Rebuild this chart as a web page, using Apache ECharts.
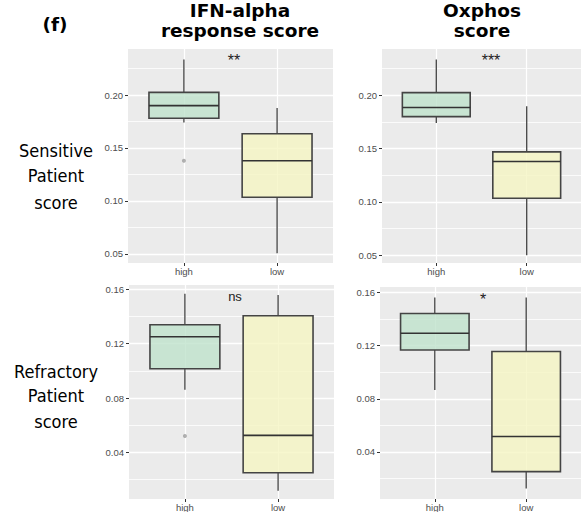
<!DOCTYPE html>
<html><head><meta charset="utf-8">
<script src="https://cdn.jsdelivr.net/npm/echarts@6/dist/echarts.min.js"></script>
<style>html,body{margin:0;padding:0;background:#fff}#c{width:581px;height:512px}</style>
</head><body><div id="c"></div>
<script>
// ---- data ----
const groups = ['high', 'low'];
// each box: [lower whisker, Q1, median, Q3, upper whisker]
const ifnSensitive = [[0.1740, 0.1780, 0.1900, 0.2025, 0.2335], [0.0506, 0.1035, 0.1380, 0.1634, 0.1878]];
const ifnSensitiveOutliers = [[0, 0.138]];
const oxSensitive = [[0.1740, 0.1800, 0.1885, 0.2025, 0.2335], [0.0500, 0.1035, 0.1380, 0.1470, 0.1897]];
const oxSensitiveOutliers = [];
const ifnRefractory = [[0.0861, 0.1015, 0.1251, 0.1339, 0.1566], [0.0119, 0.0251, 0.0526, 0.1405, 0.1558]];
const ifnRefractoryOutliers = [[0, 0.0521]];
const oxRefractory = [[0.0867, 0.1168, 0.1294, 0.1442, 0.1563], [0.0125, 0.0252, 0.0516, 0.1156, 0.1563]];
const oxRefractoryOutliers = [];
const sensTicks = [0.05, 0.10, 0.15, 0.20];
const sensMinor = [0.075, 0.125, 0.175, 0.225];
const refTicks = [0.04, 0.08, 0.12, 0.16];
const refMinor = [0.02, 0.06, 0.10, 0.14];
const pLabels = ['**', '***', 'ns', '*'];
const colTitles = [['IFN-alpha', 'response score'], ['Oxphos', 'score']];
const rowTitles = [['Sensitive', 'Patient', 'score'], ['Refractory', 'Patient', 'score']];
const panelTag = '(f)';

// ---- layout / style ----
const fills = ['rgba(190,226,203,0.78)', 'rgba(245,245,193,0.78)'];
const panels = [
  {box: ifnSensitive, out: ifnSensitiveOutliers, ticks: sensTicks, minor: sensMinor, min: 0.0415, max: 0.2434, grid: {left: 128, top: 49, width: 205, height: 214}, p: pLabels[0], px: 234, py: 60, pf: 16},
  {box: oxSensitive, out: oxSensitiveOutliers, ticks: sensTicks, minor: sensMinor, min: 0.0428, max: 0.2434, grid: {left: 382, top: 49, width: 205, height: 214}, p: pLabels[1], px: 491, py: 60, pf: 16},
  {box: ifnRefractory, out: ifnRefractoryOutliers, ticks: refTicks, minor: refMinor, min: 0.0058, max: 0.1631, grid: {left: 129, top: 285, width: 205, height: 215}, p: pLabels[2], px: 235, py: 296, pf: 13},
  {box: oxRefractory, out: oxRefractoryOutliers, ticks: refTicks, minor: refMinor, min: 0.0046, max: 0.1642, grid: {left: 380, top: 287, width: 202, height: 215}, p: pLabels[3], px: 483, py: 299, pf: 16}
];

const lblFont = 'Liberation Sans, Arial, sans-serif';
const grids = [], xAxes = [], yAxes = [], series = [], texts = [];

function renderBox(params, api) {
  const x = api.value(0);
  const v = [1, 2, 3, 4, 5].map(k => api.value(k));
  const pMin = api.coord([x, v[0]]), pQ1 = api.coord([x, v[1]]), pMed = api.coord([x, v[2]]);
  const pQ3 = api.coord([x, v[3]]), pMax = api.coord([x, v[4]]);
  const l = api.coord([x - 0.375, v[2]])[0], r = api.coord([x + 0.375, v[2]])[0];
  const cx = pMed[0];
  const wStyle = {stroke: '#333', lineWidth: 1.2};
  return {type: 'group', children: [
    {type: 'line', shape: {x1: cx, y1: pMax[1], x2: cx, y2: pQ3[1]}, style: wStyle},
    {type: 'line', shape: {x1: cx, y1: pQ1[1], x2: cx, y2: pMin[1]}, style: wStyle},
    {type: 'rect', shape: {x: l, y: pQ3[1], width: r - l, height: pQ1[1] - pQ3[1]}, style: {fill: api.visual('color'), stroke: '#444', lineWidth: 1.6}},
    {type: 'line', shape: {x1: l, y1: pMed[1], x2: r, y2: pMed[1]}, style: {stroke: '#333', lineWidth: 1.6}}
  ]};
}

panels.forEach((pn, i) => {
  grids.push(Object.assign({show: true, backgroundColor: '#EBEBEB', borderWidth: 0, containLabel: false}, pn.grid));
  xAxes.push({
    type: 'value', gridIndex: i, min: -0.6, max: 1.6,
    axisLine: {show: false},
    axisTick: {show: true, customValues: [0, 1], length: 3, lineStyle: {color: '#333', width: 1}},
    axisLabel: {customValues: [0, 1], formatter: v => groups[Math.round(v)], color: '#4D4D4D', fontSize: 9.5, margin: 3, fontFamily: lblFont},
    splitLine: {show: true, lineStyle: {color: '#FFFFFF', width: 1.2}}
  });
  // minor grid axis
  yAxes.push({
    type: 'value', gridIndex: i, position: 'left', min: pn.min, max: pn.max,
    axisLine: {show: false}, axisLabel: {show: false},
    axisTick: {show: false, customValues: pn.minor},
    splitLine: {show: true, lineStyle: {color: '#FFFFFF', width: 0.8}}
  });
  // major axis
  yAxes.push({
    type: 'value', gridIndex: i, position: 'left', min: pn.min, max: pn.max,
    axisLine: {show: false},
    axisTick: {show: true, customValues: pn.ticks, length: 3, lineStyle: {color: '#333', width: 1}},
    axisLabel: {customValues: pn.ticks, formatter: v => v.toFixed(2), color: '#4D4D4D', fontSize: 9.5, margin: 5, fontFamily: lblFont},
    splitLine: {show: true, lineStyle: {color: '#FFFFFF', width: 1.3}}
  });
  series.push({
    type: 'custom', xAxisIndex: i, yAxisIndex: 2 * i + 1,
    renderItem: renderBox,
    encode: {x: 0, y: [1, 2, 3, 4, 5]},
    data: pn.box.map((b, j) => ({value: [j].concat(b), itemStyle: {color: fills[j]}})),
    silent: true, animation: false, z: 3
  });
  series.push({
    type: 'scatter', xAxisIndex: i, yAxisIndex: 2 * i + 1,
    data: pn.out, symbolSize: 4, itemStyle: {color: '#9E9E9E'}, silent: true, animation: false, z: 4
  });
  texts.push({type: 'text', x: pn.px, y: pn.py, style: {text: pn.p, fill: '#222', font: pn.pf + 'px ' + lblFont, textAlign: 'center', textVerticalAlign: 'middle'}});
});

// column titles
const colX = [240, 482];
colTitles.forEach((t, c) => {
  texts.push({type: 'text', x: colX[c], y: 10, style: {text: t[0], fill: '#000', font: 'bold 18.5px "DejaVu Sans", sans-serif', textAlign: 'center', textVerticalAlign: 'middle'}});
  texts.push({type: 'text', x: colX[c], y: 30, style: {text: t[1], fill: '#000', font: 'bold 18.5px "DejaVu Sans", sans-serif', textAlign: 'center', textVerticalAlign: 'middle'}});
});
texts.push({type: 'text', x: 55, y: 24, style: {text: panelTag, fill: '#000', font: 'bold 18.5px "DejaVu Sans", sans-serif', textAlign: 'center', textVerticalAlign: 'middle'}});
// row titles
const rowY = [[150, 175, 202], [371, 395, 421]];
rowTitles.forEach((t, r) => {
  t.forEach((line, k) => {
    texts.push({type: 'text', x: 56, y: rowY[r][k], style: {text: line, fill: '#000', font: '18px "DejaVu Sans Condensed", "DejaVu Sans", sans-serif', textAlign: 'center', textVerticalAlign: 'middle'}});
  });
});

const chart = echarts.init(document.getElementById('c'), null, {renderer: 'svg'});
chart.setOption({
  animation: false,
  backgroundColor: '#FFFFFF',
  grid: grids, xAxis: xAxes, yAxis: yAxes, series: series,
  graphic: {elements: texts}
});
</script>
</body></html>
